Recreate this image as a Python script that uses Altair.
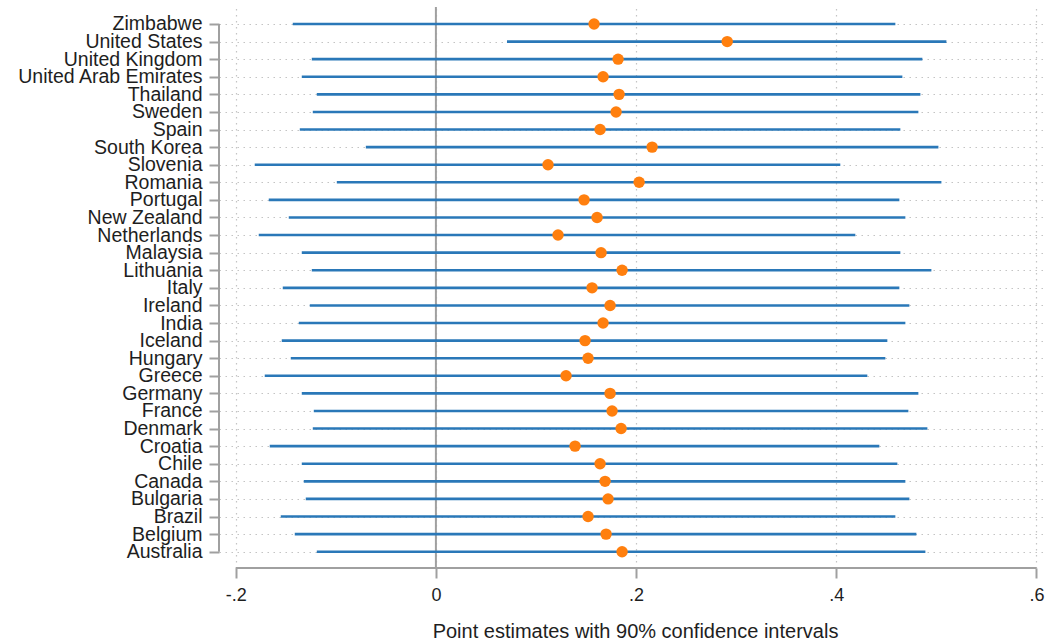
import json
import altair as alt
import pandas as pd

countries = ["Zimbabwe", "United States", "United Kingdom", "United Arab Emirates", "Thailand",
             "Sweden", "Spain", "South Korea", "Slovenia", "Romania", "Portugal", "New Zealand",
             "Netherlands", "Malaysia", "Lithuania", "Italy", "Ireland", "India", "Iceland",
             "Hungary", "Greece", "Germany", "France", "Denmark", "Croatia", "Chile", "Canada",
             "Bulgaria", "Brazil", "Belgium", "Australia"]
lower = [-0.143, 0.071, -0.124, -0.134, -0.119, -0.123, -0.136, -0.070, -0.181, -0.099,
         -0.167, -0.147, -0.177, -0.134, -0.124, -0.153, -0.126, -0.137, -0.154, -0.145,
         -0.171, -0.134, -0.122, -0.123, -0.166, -0.134, -0.132, -0.130, -0.155, -0.141, -0.119]
estimate = [0.158, 0.291, 0.182, 0.167, 0.183, 0.180, 0.164, 0.216, 0.112, 0.203,
            0.148, 0.161, 0.122, 0.165, 0.186, 0.156, 0.174, 0.167, 0.149, 0.152,
            0.130, 0.174, 0.176, 0.185, 0.139, 0.164, 0.169, 0.172, 0.152, 0.170, 0.186]
upper = [0.459, 0.510, 0.486, 0.466, 0.484, 0.482, 0.464, 0.502, 0.404, 0.505,
         0.463, 0.469, 0.419, 0.464, 0.495, 0.463, 0.473, 0.469, 0.451, 0.449,
         0.431, 0.482, 0.472, 0.491, 0.443, 0.461, 0.469, 0.473, 0.459, 0.480, 0.489]
x_ticks = [-0.2, 0, 0.2, 0.4, 0.6]
x_title = "Point estimates with 90% confidence intervals"

df = pd.DataFrame({"country": countries, "idx": list(range(len(countries))),
                   "lo": lower, "est": estimate, "hi": upper})
zero_df = pd.DataFrame({"v": [0]})
xline_df = pd.DataFrame({"a": [min(x_ticks)], "b": [max(x_ticks)]})
yline_df = pd.DataFrame({"a": [0], "b": [len(countries) - 1]})

W, H = 826, 561
FONT = "Liberation Sans, Arial, Helvetica, sans-serif"
GRAY = "#a0a0a0"
GRID = "#c4c4c4"
TXT = "#1e1e1e"

xscale = alt.Scale(domain=[-0.2167, 0.6085], nice=False, zero=False)
yscale = alt.Scale(domain=[-0.966, len(countries) - 1 + 0.927], reverse=True, nice=False, zero=False)

x_label_expr = ("datum.value == 0 ? '0' : (datum.value < 0 ? '-' : '') + "
                "replace(format(abs(datum.value), '.1f'), '0.', '.')")
y_label_expr = json.dumps(countries) + "[datum.value]"

xaxis = alt.Axis(values=x_ticks, labelExpr=x_label_expr, domain=False, ticks=True,
                 tickSize=10, tickWidth=2, tickColor=GRAY, grid=True, gridDash=[1.5, 4.5],
                 gridColor=GRID, gridWidth=1.2, labelFontSize=18, labelColor=TXT,
                 labelPadding=8, labelFlush=False, labelOverlap=False, labelFont=FONT,
                 title=x_title, titleFontSize=20, titleFontWeight="normal", titleFont=FONT,
                 titleColor=TXT, titleX=416, titleY=69, titleBaseline="alphabetic",
                 titleAlign="center", titleLimit=0)
yaxis = alt.Axis(values=list(range(len(countries))), labelExpr=y_label_expr, domain=False,
                 ticks=True, tickSize=10, tickWidth=2, tickColor=GRAY, grid=True,
                 gridDash=[1.5, 4.5], gridColor=GRID, gridWidth=1.2, labelFontSize=19.5,
                 labelColor=TXT, labelPadding=7, labelFlush=False, labelOverlap=False,
                 labelBaseline="middle", labelFont=FONT, labelLimit=0, title=None)

base = alt.Chart(df)

intervals = base.mark_rule(color="#2a78b8", strokeWidth=2.6).encode(
    x=alt.X("lo:Q", scale=xscale, axis=xaxis),
    x2="hi:Q",
    y=alt.Y("idx:Q", scale=yscale, axis=yaxis),
)

dots = base.mark_circle(size=130, color="#ff7f0e", opacity=1).encode(
    x=alt.X("est:Q", scale=xscale, axis=xaxis),
    y=alt.Y("idx:Q", scale=yscale, axis=yaxis),
)

zero_line = alt.Chart(zero_df).mark_rule(color=GRAY, strokeWidth=2).encode(
    x=alt.X("v:Q", scale=xscale, axis=xaxis),
)

x_line = alt.Chart(xline_df).mark_rule(color=GRAY, strokeWidth=2).encode(
    x=alt.X("a:Q", scale=xscale, axis=xaxis),
    x2="b:Q",
    y=alt.value(H),
)

y_line = alt.Chart(yline_df).mark_rule(color=GRAY, strokeWidth=2).encode(
    y=alt.Y("a:Q", scale=yscale, axis=yaxis),
    y2="b:Q",
    x=alt.value(0),
)

chart = alt.layer(zero_line, intervals, dots, x_line, y_line).properties(
    width=W, height=H,
    autosize=alt.AutoSizeParams(type="none"),
    padding={"left": 219, "top": 7, "right": 3, "bottom": 75},
    background="white",
).configure_view(stroke=None)

chart.save("out.html", embed_options={"renderer": "svg", "actions": False})
